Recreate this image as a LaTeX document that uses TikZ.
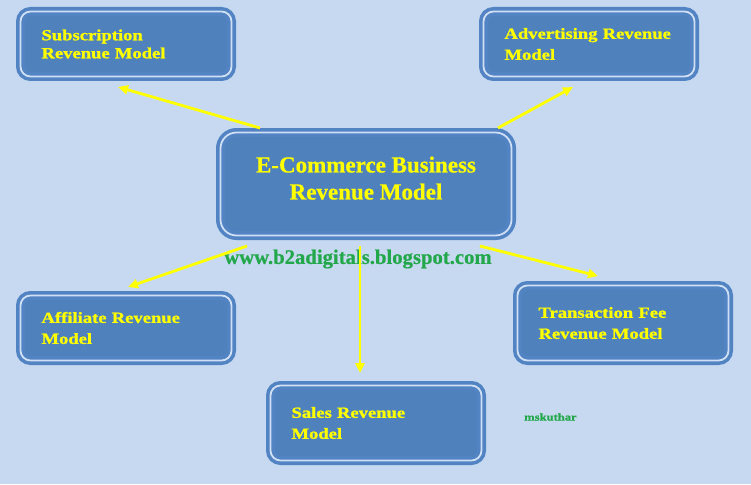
\documentclass[tikz,border=0pt]{standalone}
\usepackage{fontspec}
\setmainfont{Liberation Serif}
\newfontfamily\boxfont[FakeStretch=1.2,FakeBold=1.2]{Liberation Serif}
\newfontfamily\centfont[FakeBold=0.6]{Liberation Serif}
\usetikzlibrary{arrows.meta}
\definecolor{bgc}{HTML}{C6D9F1}
\definecolor{boxc}{HTML}{4F81BD}
\definecolor{bordc}{HTML}{5283C3}
\definecolor{linec}{HTML}{D0E0F4}
\definecolor{txtc}{HTML}{FFFF00}
\definecolor{urlc}{HTML}{22A84A}
\definecolor{arrc}{HTML}{FFFF00}
\tikzset{
  rbox/.style={draw=bordc, line width=3.6pt, double=linec, double distance=1.8pt,
    fill=boxc, rounded corners=10pt, text=txtc, align=left,
    text width=169pt, inner xsep=21pt, inner ysep=0pt,
    font=\boxfont\bfseries\fontsize{15.5pt}{21pt}\selectfont},
  cbox/.style={draw=bordc, line width=3.6pt, double=linec, double distance=1.8pt,
    fill=boxc, rounded corners=16pt, text=txtc, align=center,
    minimum width=291pt, minimum height=103pt, inner sep=0pt,
    font=\centfont\bfseries\fontsize{23pt}{27pt}\selectfont},
  arr/.style={draw=arrc, line width=2.8pt, -{Triangle[length=10pt,width=9pt]}},
}
\begin{document}
\begin{tikzpicture}[x=1pt,y=-1pt]
\fill[bgc] (0,0) rectangle (751,484);
\useasboundingbox (0,0) rectangle (751,484);

\node[cbox] (cen) at (366,184) {E-Commerce Business\\Revenue Model\\[-15pt]\mbox{}};

\node[rbox, minimum height=65pt, font=\boxfont\bfseries\fontsize{15.5pt}{18pt}\selectfont]
  (sub) at (126,44) {Subscription\\Revenue~Model};
\node[rbox, minimum height=65pt] (adv) at (589,44) {Advertising~Revenue\\Model};
\node[rbox, minimum height=65pt] (aff) at (126,328) {Affiliate~Revenue\\Model};
\node[rbox, minimum height=75pt] (tra) at (623,323) {Transaction~Fee\\Revenue~Model};
\node[rbox, minimum height=75pt] (sal) at (376,423) {Sales~Revenue\\Model};

\node[text=urlc, font=\centfont\bfseries\fontsize{20.7pt}{24pt}\selectfont, inner sep=0pt]
  (url) at (358,259) {www.b2adigitals.blogspot.com};
\node[text=urlc, font=\boxfont\bfseries\fontsize{10.5pt}{12pt}\selectfont, inner sep=0pt, anchor=west]
  (msk) at (524,417) {mskuthar};

\coordinate (s1) at (260,128);
\coordinate (e1) at (118,87);
\coordinate (s2) at (498,128);
\coordinate (e2) at (573,87);
\coordinate (s3) at (247,246);
\coordinate (e3) at (128,287);
\coordinate (s4) at (360,246);
\coordinate (e4) at (360,373);
\coordinate (s5) at (480,246);
\coordinate (e5) at (598,276);

\draw[arr] (s1) -- (e1);
\draw[arr] (s2) -- (e2);
\draw[arr] (s3) -- (e3);
\draw[arr] (s4) -- (e4);
\draw[arr] (s5) -- (e5);
\end{tikzpicture}
\end{document}
